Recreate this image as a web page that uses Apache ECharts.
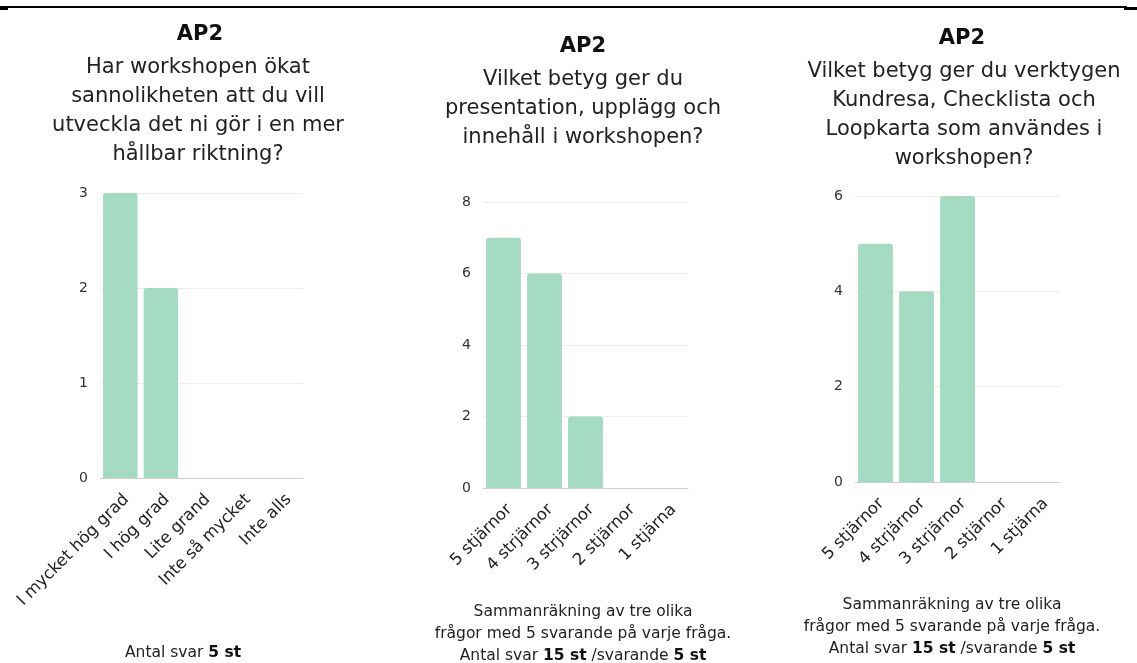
<!DOCTYPE html>
<html>
<head>
<meta charset="utf-8">
<script src="https://cdn.jsdelivr.net/npm/echarts@6/dist/echarts.min.js"></script>
<style>
  html, body { margin: 0; padding: 0; background: #fff; }
  #main { width: 1137px; height: 663px; }
</style>
</head>
<body>
<div id="main"></div>
<script>
// data
var catsGrad = ['I mycket hög grad', 'I hög grad', 'Lite grand', 'Inte så mycket', 'Inte alls'];
var valsGrad = [3, 2, 0, 0, 0];
var catsPres = ['5 stjärnor', '4 strjärnor', '3 strjärnor', '2 stjärnor', '1 stjärna'];
var valsPres = [7, 6, 2, 0, 0];
var catsVerk = ['5 stjärnor', '4 strjärnor', '3 strjärnor', '2 stjärnor', '1 stjärna'];
var valsVerk = [5, 4, 6, 0, 0];
var yMax = [3, 8, 6];
var yStep = [1, 2, 2];

var font = 'DejaVu Sans';
var barColor = '#a6dbc3';
var txt = '#222';

var myChart = echarts.init(document.getElementById('main'));

// titles have 5px padding, so x is given 5px left of the wanted centre
function heading(text, x, y) {
    return {
        text: text, left: x, top: y, textAlign: 'center',
        textStyle: { fontFamily: font, fontSize: 21, fontWeight: 'bold', color: '#111' }
    };
}
function question(text, x, y) {
    return {
        text: text, left: x, top: y, textAlign: 'center',
        textStyle: { fontFamily: font, fontSize: 21, fontWeight: 'normal', color: txt, lineHeight: 29 }
    };
}
function footer(text, x, y) {
    return {
        text: text, left: x, top: y, textAlign: 'center',
        textStyle: {
            fontFamily: font, fontSize: 15.5, fontWeight: 'normal', color: txt, lineHeight: 22,
            rich: { b: { fontFamily: font, fontSize: 15.5, fontWeight: 'bold', color: '#111', lineHeight: 22 } }
        }
    };
}

var grids = [
    { left: 100, top: 193, width: 203, height: 285 },
    { left: 483, top: 202, width: 205, height: 286 },
    { left: 855, top: 196, width: 205, height: 286 }
];
var catsAll = [catsGrad, catsPres, catsVerk];
var valsAll = [valsGrad, valsPres, valsVerk];

var xAxes = [], yAxes = [], series = [];
for (var i = 0; i < 3; i++) {
    xAxes.push({
        type: 'category', gridIndex: i, data: catsAll[i],
        axisLine: { lineStyle: { color: '#cfcfcf' } },
        axisTick: { show: false },
        axisLabel: {
            rotate: 45, interval: 0, fontFamily: font, fontSize: 16.5, color: txt,
            margin: 13, verticalAlign: 'top'
        }
    });
    yAxes.push({
        type: 'value', gridIndex: i, min: 0, max: yMax[i], interval: yStep[i],
        axisLine: { show: false }, axisTick: { show: false },
        axisLabel: { fontFamily: font, fontSize: 14, color: '#333', margin: 12 },
        splitLine: { lineStyle: { color: '#ececec' } }
    });
    series.push({
        type: 'bar', xAxisIndex: i, yAxisIndex: i, data: valsAll[i],
        barCategoryGap: '15%',
        itemStyle: { color: barColor, borderRadius: [3, 3, 0, 0] }
    });
}

var option = {
    backgroundColor: '#fff',
    animation: false,
    title: [
        heading('AP2', 195, 19),
        question('Har workshopen ökat\nsannolikheten att du vill\nutveckla det ni gör i en mer\nhållbar riktning?', 193, 48),
        heading('AP2', 578, 31),
        question('Vilket betyg ger du\npresentation, upplägg och\ninnehåll i workshopen?', 578, 60),
        heading('AP2', 957, 23),
        question('Vilket betyg ger du verktygen\nKundresa, Checklista och\nLoopkarta som användes i\nworkshopen?', 959, 52),
        footer('Antal svar {b|5 st}', 178, 637),
        footer('Sammanräkning av tre olika\nfrågor med 5 svarande på varje fråga.\nAntal svar {b|15 st} /svarande {b|5 st}', 578, 596),
        footer('Sammanräkning av tre olika\nfrågor med 5 svarande på varje fråga.\nAntal svar {b|15 st} /svarande {b|5 st}', 947, 589)
    ],
    grid: grids,
    xAxis: xAxes,
    yAxis: yAxes,
    series: series,
    graphic: [
        { type: 'line', shape: { x1: 0, y1: 7, x2: 1127, y2: 7 }, style: { stroke: '#000', lineWidth: 2 } },
        { type: 'rect', shape: { x: 0, y: 7, width: 8, height: 3 }, style: { fill: '#000' } },
        { type: 'rect', shape: { x: 1124, y: 7, width: 13, height: 3 }, style: { fill: '#000' } }
    ]
};

myChart.setOption(option);
</script>
</body>
</html>
